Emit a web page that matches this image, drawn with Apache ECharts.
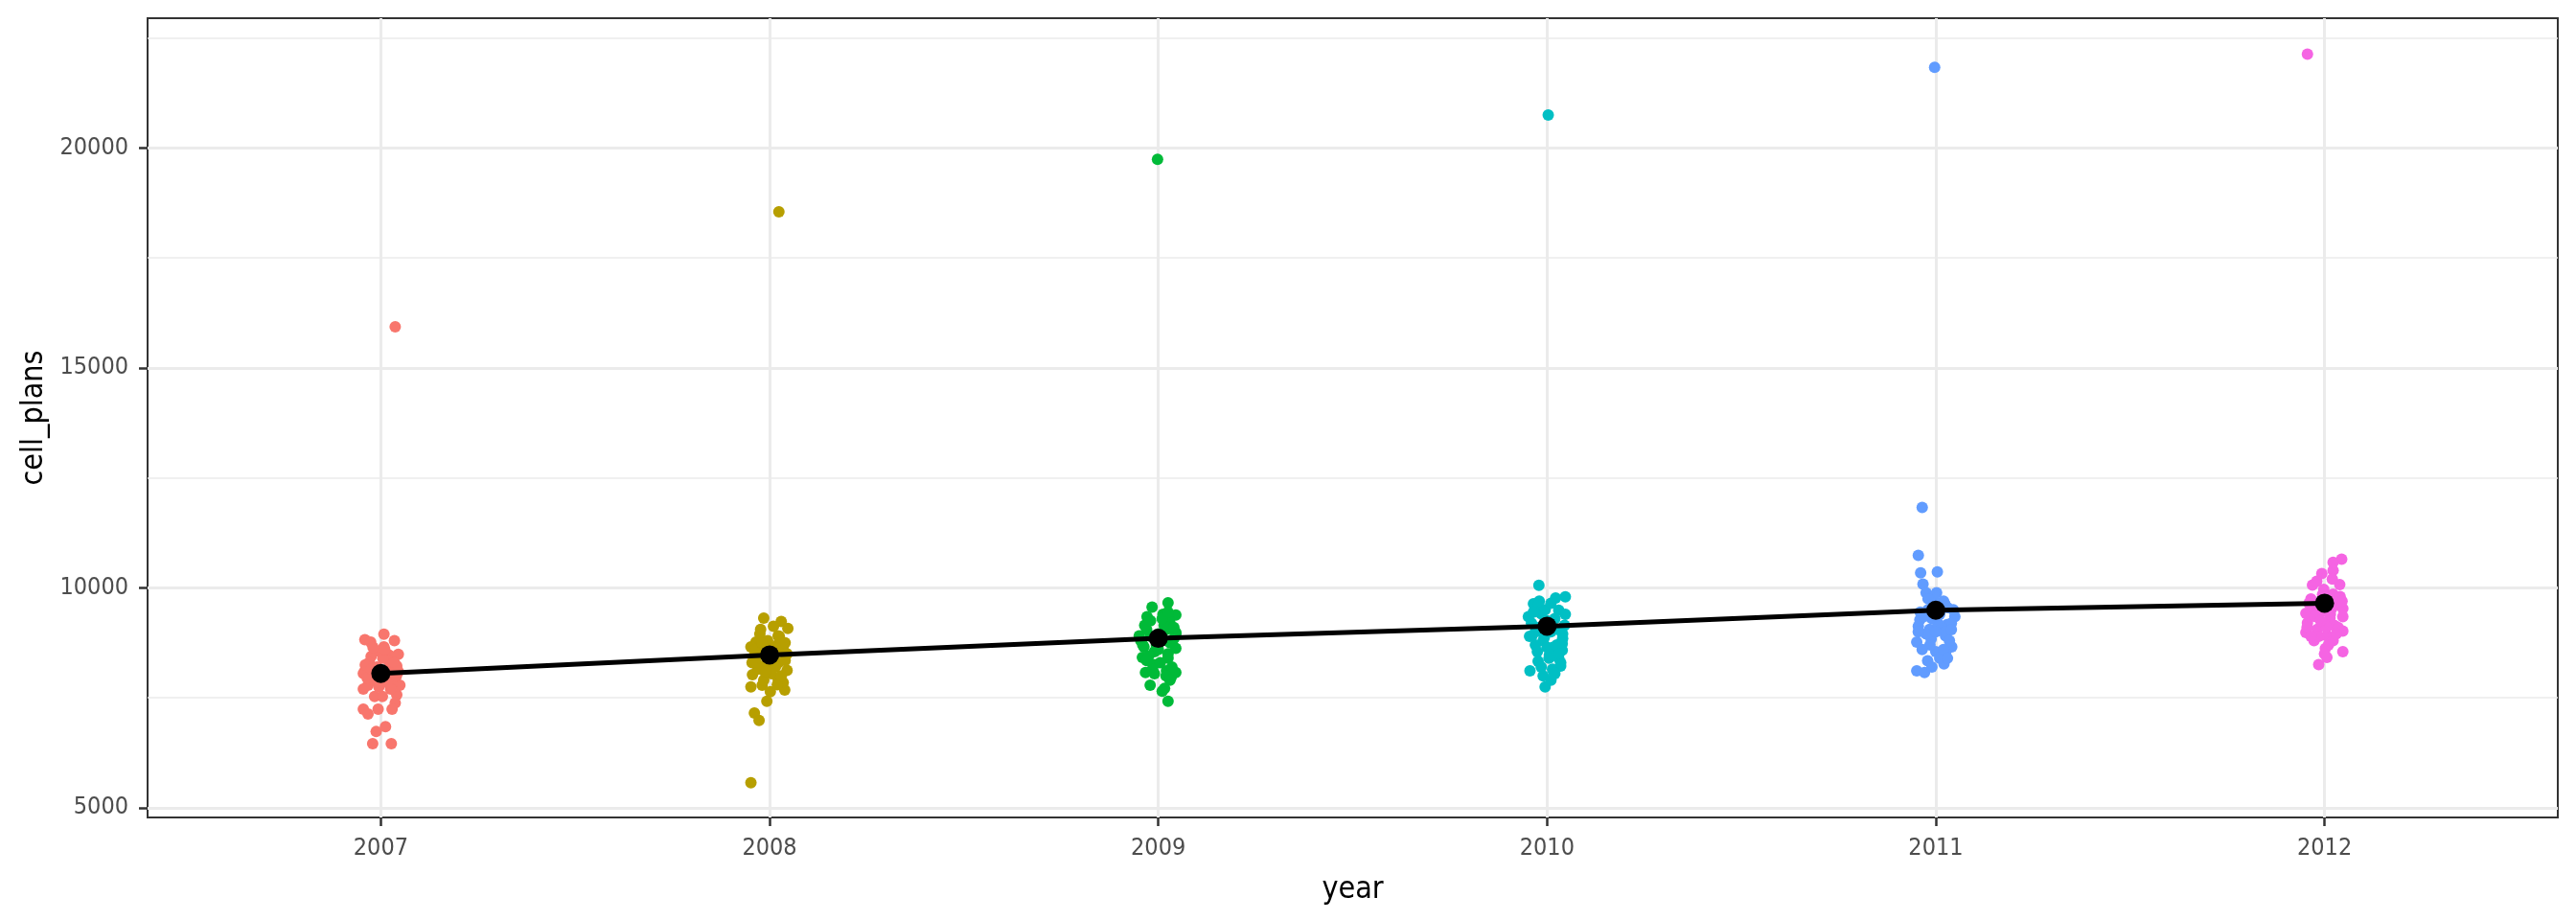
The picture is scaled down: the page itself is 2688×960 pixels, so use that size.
<!DOCTYPE html>
<html>
<head>
<meta charset="utf-8">
<script src="https://cdn.jsdelivr.net/npm/echarts@6/dist/echarts.min.js"></script>
<style>
html,body{margin:0;padding:0;background:#fff;}
#chart{width:2688px;height:960px;}
</style>
</head>
<body>
<div id="chart"></div>
<script>
const years = [2007, 2008, 2009, 2010, 2011, 2012];
const colors = ['#F8766D', '#B79F00', '#00BA38', '#00BFC4', '#619CFF', '#F564E3'];
const yTicks = [5000, 10000, 15000, 20000];
const yMinorTicks = [7500, 12500, 17500, 22500];
const means = [8054, 8476, 8853, 9129, 9491, 9652];

// horizontal jitter offsets (years) and values, per year
const jit2007 = [0.008,-0.041,-0.026,0.035,0.008,-0.025,0.021,0.045,-0.002,-0.041,0.041,-0.045,-0.033,0.049,0.029,-0.016,0.004,0.041,0.037,-0.045,-0.033,-0.007,0.029,-0.012,0.012,-0.021,0.027,0.037,
  -0.03,0.02,-0.01,0.03,0.01,-0.02,0.04,-0.04,0,0.02,-0.015,0.035,-0.035,0.005,0.025,-0.005,0.015,-0.025,0.045,-0.045,0.01,-0.02];
const val2007 = [8947,8824,8766,8802,8657,8439,8476,8490,8548,8113,8222,8055,7786,7786,7823,7532,7532,7569,7387,7242,7133,7242,7242,6734,6843,6458,6458,15933,
  8300,8350,8200,8050,7950,7900,8000,8250,8100,8150,8000,8300,7950,8400,7700,7750,7850,8150,8100,7700,8600,8650];

const jit2008 = [-0.015,0.030,0.010,0.047,-0.023,0.022,-0.035,-0.048,0.035,-0.035,0.022,-0.044,0.045,-0.011,0.022,-0.048,-0.019,0.002,0.039,-0.007,-0.039,-0.027,-0.048,0.024,
  -0.02,0.01,0.03,-0.04,0,0.02,-0.01,0.04,-0.03,0.015,-0.005,0.025,-0.025,0.005,0.035,-0.015,0.045,-0.045,0.01,-0.035,0.02,-0.01,0.03,0,-0.02,0.04];
const val2008 = [9310,9237,9129,9078,9056,8911,8766,8657,8657,8330,8294,8026,8127,8077,7931,7750,7786,7641,7677,7423,7155,6988,5573,18545,
  8500,8400,8550,8450,8600,8700,8250,8350,8150,8200,8800,8900,8950,8050,7850,7900,8500,8300,8650,8600,7800,8100,8000,8350,8750,8750];

const jit2009 = [0.025,-0.016,-0.029,0.012,0.045,0.029,-0.049,0.045,-0.037,0.045,-0.041,0.025,-0.012,-0.033,0.021,0.045,0.033,-0.021,0.016,0.025,-0.002,
  -0.02,0.01,0.03,-0.04,0,0.02,-0.01,0.04,-0.03,0.015,-0.005,0.025,-0.025,0.005,0.035,-0.015,0.045,-0.045,0.01,-0.035,0.02,-0.01,0.03,0,-0.02,0.04,0.01,-0.03,0.025];
const val2009 = [9658,9564,9346,9397,9383,9237,8911,8983,8657,8628,8418,8403,8258,8077,8113,8077,7968,7786,7714,7423,19739,
  8900,8800,8750,8700,8950,9050,8550,8850,9050,9150,8700,8500,8450,8300,8200,8150,8950,8800,9300,9150,8000,8050,7900,8600,9250,9100,7650,8350,9450];

const jit2010 = [-0.021,0.022,0.047,-0.035,-0.023,0.030,0.047,-0.048,-0.015,-0.039,-0.007,0.039,0.039,0.006,0.030,-0.023,0.035,-0.044,0.014,0.018,-0.005,0.003,
  -0.02,0.01,0.03,-0.04,0,0.02,-0.01,0.04,-0.03,0.015,-0.005,0.025,-0.025,0.005,0.035,-0.015,0.045,-0.045,0.01,-0.035,0.02,-0.01,0.03,0,-0.02,0.04,0.01,-0.03];
const val2010 = [10057,9767,9796,9637,9600,9492,9397,9346,9412,8911,8875,8729,8584,8476,8403,8330,8222,8113,8150,8077,7750,20746,
  9100,9000,9050,9200,9250,9300,8800,8950,9000,8650,9500,8700,8550,8400,8300,8200,9150,8900,9650,9450,8050,8000,8500,8650,9700,8850,7900,8700];

const jit2011 = [-0.035,-0.045,-0.039,0.004,-0.033,-0.025,0.002,0.023,0.049,-0.041,0.029,-0.045,-0.016,0.025,-0.049,-0.012,0.041,0,0.025,-0.021,0.021,-0.049,-0.029,-0.003,
  -0.02,0.01,0.03,-0.04,0,0.02,-0.01,0.04,-0.03,0.015,-0.005,0.025,-0.025,0.005,0.035,-0.015,0.045,-0.045,0.01,-0.035,0.02,-0.01,0.03,0,-0.02,0.04];
const val2011 = [11828,10740,10340,10361,10086,9890,9890,9637,9346,9274,9165,9129,9056,8911,8766,8839,8657,8548,8524,8345,8272,8113,8077,21828,
  9500,9400,9550,9450,9600,9700,9300,9200,9350,9100,9800,9000,8950,9200,8800,8700,9500,9000,8400,8600,8600,8200,8400,9000,9750,9050];

const jit2012 = [0.044,0.022,0.022,-0.007,0.039,-0.031,-0.002,0.022,-0.035,0.047,-0.048,0.047,0.014,-0.044,-0.019,0.047,-0.048,0.006,-0.027,0.022,0.002,0.047,0.006,-0.015,-0.044,
  -0.02,0.01,0.03,-0.04,0,0.02,-0.01,0.04,-0.03,0.015,-0.005,0.025,-0.025,0.005,0.035,-0.015,0.045,-0.045,0.01,-0.035,0.02,-0.01,0.03,0,-0.02];
const val2012 = [10652,10580,10398,10326,10072,10065,9963,9854,9745,9528,9419,9346,9310,9201,9056,9020,8983,8911,8802,8802,8621,8548,8418,8258,22127,
  9650,9600,9700,9650,9750,9550,9450,9800,9550,9400,9850,9150,9350,9100,9100,8900,9700,9100,8700,8900,10200,9250,8950,8500,10150];

const jits = [jit2007, jit2008, jit2009, jit2010, jit2011, jit2012];
const vals = [val2007, val2008, val2009, val2010, val2011, val2012];

const FONT = 'DejaVu Sans Condensed';

const series = [];
// grid lines drawn through the axes' own scales
series.push({
  type: 'line', data: [], z: 1, silent: true,
  markLine: {
    z: 1, silent: true, symbol: 'none', animation: false,
    label: { show: false },
    data: [
      ...yMinorTicks.map(v => ({ yAxis: v, lineStyle: { color: '#EBEBEB', width: 1.6, type: 'solid' } })),
      ...yTicks.map(v => ({ yAxis: v, lineStyle: { color: '#EBEBEB', width: 3, type: 'solid' } })),
      ...years.map(v => ({ xAxis: v, lineStyle: { color: '#EBEBEB', width: 3, type: 'solid' } }))
    ]
  }
});
years.forEach((y, i) => {
  series.push({
    type: 'scatter', z: 3, symbolSize: 12,
    itemStyle: { color: colors[i], opacity: 1 },
    data: vals[i].map((v, k) => [y + jits[i][k], v]),
    animation: false
  });
});
series.push({
  type: 'line', z: 4, symbol: 'circle', symbolSize: 20, showSymbol: true,
  lineStyle: { color: '#000', width: 5 },
  itemStyle: { color: '#000' },
  data: years.map((y, i) => [y, means[i]]),
  animation: false
});

const chart = echarts.init(document.getElementById('chart'), null, { renderer: 'canvas' });
chart.setOption({
  backgroundColor: '#fff',
  animation: false,
  grid: { left: 154, right: 19, top: 19, bottom: 107, show: true, borderColor: '#333333', borderWidth: 2, backgroundColor: 'transparent' },
  xAxis: {
    type: 'value', min: 2006.4, max: 2012.6,
    name: 'year', nameLocation: 'middle', nameGap: 60,
    nameTextStyle: { fontFamily: FONT, fontSize: 32, color: '#000' },
    axisLine: { show: true, onZero: false, lineStyle: { color: '#333333', width: 2 } },
    axisTick: { show: true, length: 9, customValues: years, lineStyle: { color: '#333333', width: 2.5 } },
    axisLabel: { customValues: years, fontFamily: FONT, fontSize: 25, color: '#4D4D4D', margin: 20, formatter: v => String(v) },
    splitLine: { show: false }, minorSplitLine: { show: false }
  },
  yAxis: {
    type: 'value', min: 4782, max: 22945,
    name: 'cell_plans', nameLocation: 'middle', nameGap: 99, nameRotate: 90,
    nameTextStyle: { fontFamily: FONT, fontSize: 32, color: '#000' },
    axisLine: { show: true, onZero: false, lineStyle: { color: '#333333', width: 2 } },
    axisTick: { show: true, length: 9, customValues: yTicks, lineStyle: { color: '#333333', width: 2.5 } },
    axisLabel: { customValues: yTicks, fontFamily: FONT, fontSize: 25, color: '#4D4D4D', margin: 20, formatter: v => String(v) },
    splitLine: { show: false }
  },
  series: series
});
</script>
</body>
</html>
